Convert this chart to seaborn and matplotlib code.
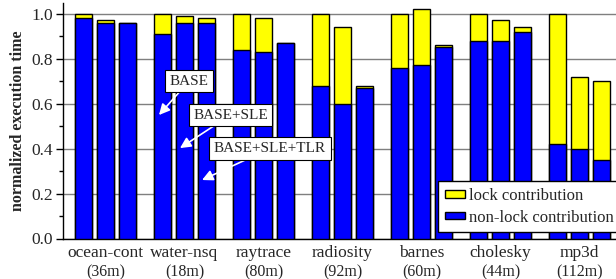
import numpy as np
import pandas as pd
import matplotlib
matplotlib.use("Agg")
import matplotlib.pyplot as plt
import matplotlib.transforms as mtransforms
from matplotlib.patches import Patch
import seaborn as sns

benchmarks = ["ocean-cont", "water-nsq", "raytrace", "radiosity", "barnes", "cholesky", "mp3d"]
sizes = ["(36m)", "(18m)", "(80m)", "(92m)", "(60m)", "(44m)", "(112m)"]
configs = ["BASE", "BASE+SLE", "BASE+SLE+TLR"]
total_time = [
    [1.00, 0.97, 0.96],
    [1.00, 0.99, 0.98],
    [1.00, 0.98, 0.87],
    [1.00, 0.94, 0.68],
    [1.00, 1.02, 0.86],
    [1.00, 0.97, 0.94],
    [1.00, 0.72, 0.70],
]
nonlock_time = [
    [0.98, 0.96, 0.96],
    [0.91, 0.96, 0.96],
    [0.84, 0.83, 0.87],
    [0.68, 0.60, 0.67],
    [0.76, 0.77, 0.85],
    [0.88, 0.88, 0.92],
    [0.42, 0.40, 0.35],
]
yticks = [0.0, 0.2, 0.4, 0.6, 0.8, 1.0]

rows = []
for i, b in enumerate(benchmarks):
    for j, c in enumerate(configs):
        rows.append({"bench": b, "config": c,
                     "total": total_time[i][j], "nonlock": nonlock_time[i][j]})
df = pd.DataFrame(rows)

sns.set_style("white")
plt.rcParams["font.family"] = ["Liberation Serif", "DejaVu Serif"]

YELLOW = "#FFFF00"
BLUE = "#0000FF"

fig = plt.figure(figsize=(6.16, 2.79), dpi=100)
ax = fig.add_axes([63 / 616, (279 - 238.5) / 279, 1 - 63 / 616, 235.5 / 279])

common = dict(data=df, x="bench", hue="config", order=benchmarks, hue_order=configs,
              edgecolor="black", linewidth=1.0, width=0.835, gap=0.25, saturation=1,
              errorbar=None, legend=False, ax=ax, zorder=3)
sns.barplot(y="total", palette={c: YELLOW for c in configs}, **common)
sns.barplot(y="nonlock", palette={c: BLUE for c in configs}, **common)

ax.set_xlim(-0.538, 6.462)
ax.set_ylim(0, 1.047)
ax.set_yticks(yticks)
ax.set_yticklabels([f"{t:.1f}" for t in yticks], fontsize=12.5)
ax.set_yticks(np.arange(0.1, 1.0, 0.2), minor=True)
ax.tick_params(axis="y", which="major", direction="out", length=5, width=1, color="black", left=True, pad=2)
ax.tick_params(axis="y", which="minor", direction="out", length=3, width=1, color="black", left=True)
ax.tick_params(axis="x", bottom=False, labelbottom=False)
ax.set_xlabel("")
ax.set_ylabel("normalized execution time", fontsize=11.5, fontweight="bold", labelpad=4)
ax.yaxis.grid(True, color="#7f7f7f", linewidth=1, zorder=0)
ax.set_axisbelow(True)
for s in ["top", "right"]:
    ax.spines[s].set_visible(False)
for s in ["left", "bottom"]:
    ax.spines[s].set_color("black")
    ax.spines[s].set_linewidth(1)

trans = mtransforms.blended_transform_factory(ax.transData, fig.transFigure)
for i, (b, s) in enumerate(zip(benchmarks, sizes)):
    fig.text(i, 1 - 253 / 279, b, transform=trans, ha="center", va="center", fontsize=12.5)
    fig.text(i, 1 - 272 / 279, s, transform=trans, ha="center", va="center", fontsize=11.5)

ann = [
    ("BASE", (0.677, 0.549), (1.057, 0.70)),
    ("BASE+SLE", (0.943, 0.402), (1.582, 0.549)),
    ("BASE+SLE+TLR", (1.222, 0.26), (2.082, 0.40)),
]
for txt, xy, xyt in ann:
    ax.annotate(txt, xy=xy, xytext=xyt, ha="center", va="center", fontsize=11,
                bbox=dict(boxstyle="square,pad=0.3", fc="white", ec="black", lw=0.8),
                arrowprops=dict(arrowstyle="-|>", color="white", lw=1.2,
                                mutation_scale=16, shrinkA=0, shrinkB=0),
                zorder=5)

handles = [Patch(facecolor=YELLOW, edgecolor="black", label="lock contribution"),
           Patch(facecolor=BLUE, edgecolor="black", label="non-lock contribution")]
leg = ax.legend(handles=handles, loc="upper left", bbox_to_anchor=(0.678, 0.244),
                fontsize=12, frameon=True, fancybox=False, borderaxespad=0,
                handlelength=1.2, handleheight=0.35, handletextpad=0.25,
                borderpad=0.4, labelspacing=0.35)
leg.get_frame().set_edgecolor("black")
leg.get_frame().set_linewidth(1)
leg.get_frame().set_alpha(1)
leg.set_zorder(6)

fig.savefig("out.png", dpi=100)
